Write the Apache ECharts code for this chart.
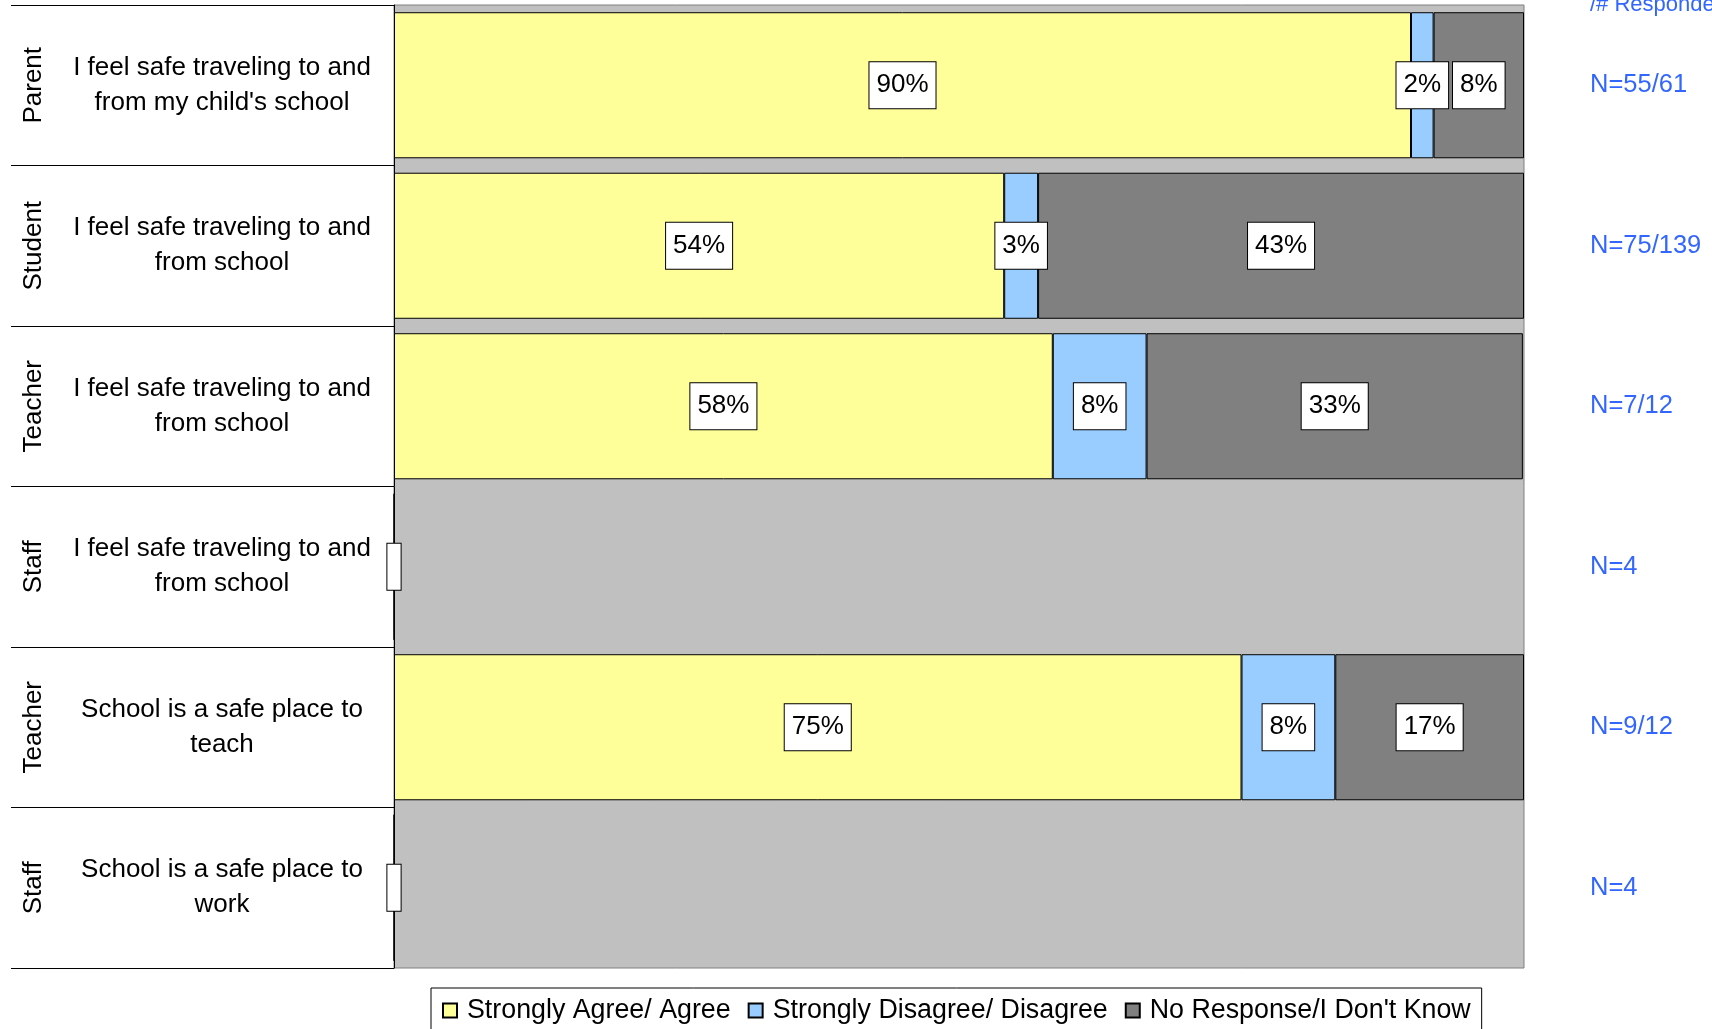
<!DOCTYPE html>
<html>
<head>
<meta charset="utf-8">
<script src="https://cdn.jsdelivr.net/npm/echarts@6/dist/echarts.min.js"></script>
<style>
html,body{margin:0;padding:0;background:#fff;}
#chart{width:1712px;height:1029px;}
</style>
</head>
<body>
<div id="chart"></div>
<script>
const groups = ['Parent', 'Student', 'Teacher', 'Staff', 'Teacher', 'Staff'];
const questions = [
  "I feel safe traveling to and\nfrom my child's school",
  'I feel safe traveling to and\nfrom school',
  'I feel safe traveling to and\nfrom school',
  'I feel safe traveling to and\nfrom school',
  'School is a safe place to\nteach',
  'School is a safe place to\nwork'
];
const respondents = ['N=55/61', 'N=75/139', 'N=7/12', 'N=4', 'N=9/12', 'N=4'];
const seriesNames = ['Strongly Agree/ Agree', 'Strongly Disagree/ Disagree', "No Response/I Don't Know"];
const agree = [90, 54, 58.3, 0, 75, 0];
const disagree = [2, 3, 8.3, null, 8.3, null];
const noResponse = [8, 43, 33.3, null, 16.7, null];
const colors = ['#FFFF99', '#99CCFF', '#808080'];

const FONT = '"Liberation Sans", Arial, sans-serif';
const idx = questions.map((q, i) => String(i));

const labelBox = {
  show: true,
  position: 'inside',
  color: '#000',
  fontFamily: FONT,
  fontSize: 26,
  backgroundColor: '#fff',
  borderColor: '#000',
  borderWidth: 1,
  padding: [11, 7, 9, 7],
  formatter: p => (p.value == null ? '' : Math.round(p.value) + '%')
};

function makeData(arr) {
  return arr.map(v => {
    if (v === 0) {
      return { value: 0, label: { formatter: ' ', padding: [11, 3, 9, 3] } };
    }
    return v;
  });
}

const series = [agree, disagree, noResponse].map((arr, k) => ({
  name: seriesNames[k],
  type: 'bar',
  stack: 'total',
  yAxisIndex: 0,
  barCategoryGap: '9%',
  data: makeData(arr),
  itemStyle: { color: colors[k], borderColor: '#000', borderWidth: 1 },
  label: labelBox,
  emphasis: { disabled: true },
  animation: false
}));

const chart = echarts.init(document.getElementById('chart'), null, { renderer: 'canvas' });
chart.setOption({
  animation: false,
  backgroundColor: '#fff',
  grid: {
    left: 394, right: 188, top: 5, bottom: 61,
    show: true, backgroundColor: '#C0C0C0', borderColor: '#808080', borderWidth: 1
  },
  xAxis: { type: 'value', min: 0, max: 100, show: false },
  yAxis: [
    {
      type: 'category', data: idx, inverse: true, position: 'left',
      axisLine: { show: true, lineStyle: { color: '#000', width: 1 } },
      axisTick: { show: true, length: 383, lineStyle: { color: '#000', width: 1 } },
      axisLabel: {
        formatter: (v, i) => questions[i],
        align: 'center', margin: 172,
        fontFamily: FONT, fontSize: 26, lineHeight: 35, color: '#000'
      }
    },
    {
      type: 'category', data: idx, inverse: true, position: 'left',
      axisLine: { show: false }, axisTick: { show: false },
      axisLabel: {
        formatter: (v, i) => groups[i],
        rotate: 90, verticalAlign: 'middle', align: 'center', margin: 360,
        fontFamily: FONT, fontSize: 26, color: '#000'
      }
    },
    {
      type: 'category', data: idx, inverse: true, position: 'right',
      axisLine: { show: false }, axisTick: { show: false },
      axisLabel: {
        formatter: (v, i) => respondents[i],
        align: 'left', margin: 66,
        fontFamily: FONT, fontSize: 25.5, color: '#3366FF'
      }
    }
  ],
  legend: {
    left: 431, top: 988,
    itemWidth: 14, itemHeight: 14, itemGap: 17,
    borderColor: '#000', borderWidth: 1,
    padding: [9, 11, 14, 11],
    textStyle: { fontFamily: FONT, fontSize: 26.8, color: '#000', padding: [0, 0, 0, 5] },
    data: seriesNames.map(n => ({ name: n, icon: 'rect' }))
  },
  graphic: [
    {
      type: 'text', left: 1590, top: -6,
      style: { text: '/# Respondents', fill: '#3366FF', font: '22px ' + FONT }
    }
  ],
  series: series
});
</script>
</body>
</html>
